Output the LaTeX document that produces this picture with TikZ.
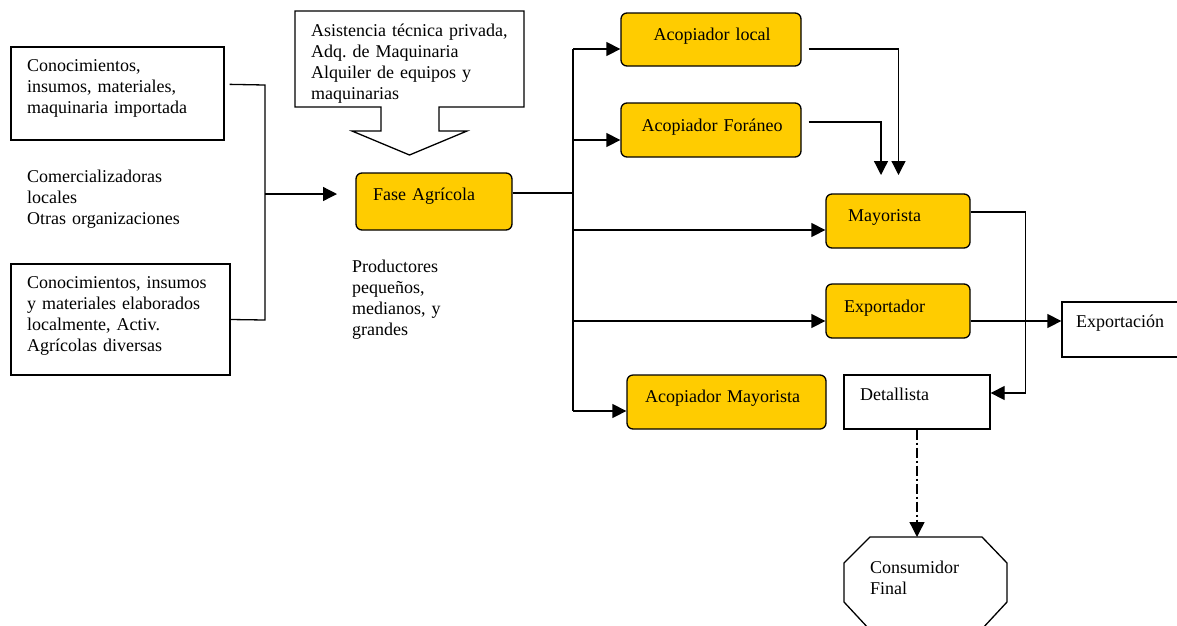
\documentclass[tikz,border=0pt]{standalone}
\usepackage{fontspec}
\setmainfont{Liberation Serif}
\frenchspacing
\usetikzlibrary{arrows.meta,calc}
\definecolor{gold}{HTML}{FFCC00}
\tikzset{
  plain/.style={draw=black, line width=1.3pt, fill=white, inner sep=0},
  goldbox/.style={draw=black, line width=1.3pt, fill=gold, rounded corners=6pt, inner sep=0},
  txt/.style={anchor=base west, inner sep=0, align=left, text width=260pt,
    font=\fontsize{18}{21}\selectfont},
  conn/.style={line width=1.3pt},
  arr/.style={line width=1.3pt, -{Triangle[length=14pt,width=14pt]}},
  dashdotline/.style={line width=1.3pt, dash pattern=on 10pt off 3pt on 2pt off 3pt}
}
\begin{document}
\begin{tikzpicture}[x=1pt,y=-1pt]
\useasboundingbox (0,0) rectangle (1177,625);
\fill[white] (0,0) rectangle (1177,625);

% left boxes
\node[plain, minimum width=213pt, minimum height=93pt] (box1) at (117.5,93.5) {};
\node[txt] (t1) at (27,71.5) {Conocimientos,\\insumos, materiales,\\maquinaria importada};
\node[txt] (t2) at (27,182) {Comercializadoras\\locales\\Otras organizaciones};
\node[plain, minimum width=219pt, minimum height=111pt] (box2) at (120.5,319.5) {};
\node[txt] (t3) at (27,288) {Conocimientos, insumos\\y materiales elaborados\\localmente, Activ.\\Agrícolas diversas};

% callout
\draw[line width=1.3pt, fill=white] (295,11) -- (524,11) -- (524,107) -- (439,107) -- (439,131) -- (467,131)
  -- (409.5,155) -- (352,131) -- (381,131) -- (381,107) -- (295,107) -- cycle;
\coordinate (calltip) at (409.5,155);
\node[txt] (t4) at (311,36) {Asistencia técnica privada,\\Adq. de Maquinaria\\Alquiler de equipos y\\maquinarias};

% Fase agricola
\node[goldbox, minimum width=156pt, minimum height=57pt] (fase) at (434,201.5) {};
\node[txt] (tf) at (373,200) {Fase Agrícola};
\node[txt] (tp) at (352,272) {Productores\\pequeños,\\medianos, y\\grandes};

% right column
\node[goldbox, minimum width=180pt, minimum height=53pt] (aloc) at (711,39.5) {};
\node[txt] at (653.5,40.5) {Acopiador local};
\node[goldbox, minimum width=180pt, minimum height=54pt] (afor) at (711,130) {};
\node[txt] at (641.5,131) {Acopiador Foráneo};
\node[goldbox, minimum width=144pt, minimum height=54pt] (mayo) at (898,221) {};
\node[txt] at (848,221) {Mayorista};
\node[goldbox, minimum width=144pt, minimum height=54pt] (expo) at (898,311) {};
\node[txt] at (844,312) {Exportador};
\node[goldbox, minimum width=199pt, minimum height=54pt] (amay) at (726.5,402) {};
\node[txt] at (645,402) {Acopiador Mayorista};
\node[plain, minimum width=146pt, minimum height=54pt] (deta) at (917,402) {};
\node[txt] at (860,400) {Detallista};
\node[plain, minimum width=118pt, minimum height=55pt] (expn) at (1121,329.5) {};
\node[txt] at (1076,327) {Exportación};

% octagon
\draw[line width=1.3pt, fill=white] (870,537) -- (982,537) -- (1007,563) -- (1007,602) -- (981,630)
  -- (870,630) -- (844,602) -- (844,563) -- cycle;
\coordinate (cons) at (917,537);
\node[txt] at (870,573) {Consumidor\\Final};

% connectors: left bracket
\coordinate (br1) at (265,85);
\coordinate (br2) at (265,320);
\coordinate (brmid) at (265,194);
\coordinate (faseIn) at (337,194);
\draw[conn] ($(box1.north east)+(5,38)$) -- (br1) -- (br2) -- (box2.east);
\draw[arr] (brmid) -- (faseIn);

% trunk
\coordinate (trT) at (573,49);
\coordinate (trB) at (573,411);
\draw[conn] (fase.east |- 0,193) -- (573,193);
\draw[conn] (trT) -- (trB);
\draw[arr] (trT) -- (aloc.west |- trT);
\draw[arr] (573,140) -- (afor.west |- 0,140);
\draw[arr] (573,230) -- (mayo.west |- 0,230);
\draw[arr] (573,321) -- (expo.west |- 0,321);
\draw[arr] (trB) -- (amay.west |- trB);

% into Mayorista
\draw[arr] ($(aloc.east |- 0,49)+(7,0)$) -- (898.5,49) -- (898.5,175);
\draw[arr] ($(afor.east |- 0,122)+(7,0)$) -- (881,122) -- (881,175);

% Mayorista -> Detallista
\draw[arr] (mayo.east |- 0,212) -- (1025.5,212) -- (1025.5,393) -- (deta.east |- 0,393);
% Exportador -> Exportacion
\draw[arr] (expo.east |- 0,321) -- (expn.west |- 0,321);
% Detallista -> Consumidor
\draw[dashdotline, -{Triangle[length=15pt,width=15pt]}] (deta.south) -- (cons);
\end{tikzpicture}
\end{document}
